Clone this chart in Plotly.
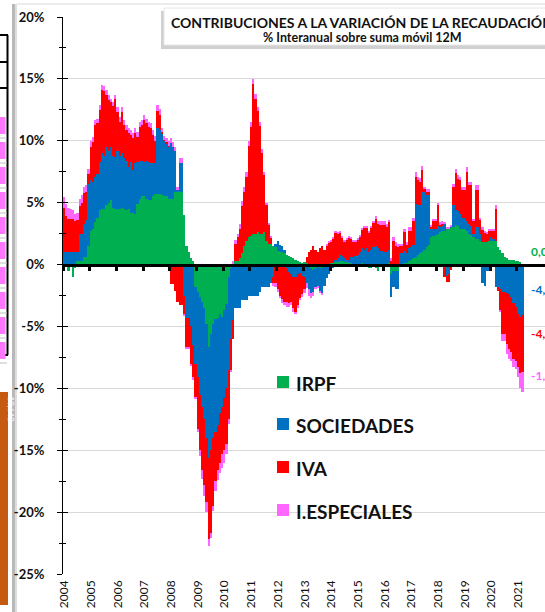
import plotly.graph_objects as go

# ---------------- DATA (monthly, Jan 2004 - Mar 2021, % contribution) ----------------
year_labels = [str(y) for y in range(2004, 2022)]

irpf_04 = [-0.3, -0.2, -0.5, -0.2, -1.0, -0.3, 0.3, 0.3, 0.3, 0.6, 0.6, 1.5]
irpf_05 = [2.75, 2.9, 3.4, 3.8, 4.4, 4.5, 4.5, 4.8, 5.0, 5.2, 4.6, 4.5]
irpf_06 = [4.5, 4.5, 4.6, 4.5, 4.4, 4.5, 4.2, 4.2, 4.1, 4.9, 5.3, 5.5]
irpf_07 = [5.5, 5.3, 5.2, 5.2, 5.5, 5.7, 5.7, 5.7, 5.6, 5.5, 5.5, 5.3]
irpf_08 = [5.3, 5.3, 5.9, 5.9, 5.9, 5.9, 4.0, 1.5, 1.0, 0.5, 0.3, -1.8]
irpf_09 = [-2.2, -2.6, -3.0, -3.5, -4.8, -6.7, -5.6, -4.8, -4.4, -4.3, -4.0, -4.2]
irpf_10 = [-3.7, -3.2, -1.0, -0.3, 0.0, 0.3, 0.3, 0.5, 0.9, 1.5, 1.9, 2.2]
irpf_11 = [2.3, 2.5, 2.5, 2.6, 2.5, 2.5, 2.6, 1.9, 1.7, 1.7, 1.5, 1.4]
irpf_12 = [1.1, 1.0, 1.0, 0.9, 0.8, 0.7, 0.6, 0.5, 0.4, 0.3, 0.2, 0.1]
irpf_13 = [0.2, 0.1, -0.2, -0.3, -0.4, -0.3, -0.2, -0.3, -0.3, -0.2, -0.1, 0.0]
irpf_14 = [0.1, 0.1, 0.2, 0.2, 0.3, 0.3, 0.2, 0.2, 0.1, 0.1, 0.0, 0.0]
irpf_15 = [0.0, 0.0, 0.1, -0.1, -0.2, -0.3, -0.3, -0.2, -0.3, -0.5, 0.0, 0.0]
irpf_16 = [0.0, 0.0, 0.1, -0.75, -0.5, -0.5, -0.5, 0.0, 0.0, 0.1, 0.1, 0.3]
irpf_17 = [0.4, 0.5, 0.6, 0.8, 0.9, 1.0, 1.2, 1.4, 1.6, 2.2, 2.3, 2.4]
irpf_18 = [2.5, 2.6, 2.7, 2.75, 2.9, 2.9, 3.0, 3.0, 3.2, 3.1, 2.9, 2.9]
irpf_19 = [2.9, 2.7, 2.5, 2.4, 2.2, 2.1, 2.1, 1.9, 1.8, 1.8, 1.8, 1.9]
irpf_20 = [1.9, 1.9, 1.9, 1.4, 1.2, 0.9, 0.6, 0.5, 0.4, 0.4, 0.4, 0.3]
irpf_21 = [0.3, 0.2, 0.04]

soc_04 = [1.0, 1.0, 1.0, 1.0, 1.0, 1.0, 0.7, 2.2, 2.2, 2.7, 3.0, 5.0]
soc_05 = [4.05, 3.8, 3.7, 3.5, 3.9, 4.5, 4.3, 4.7, 4.2, 4.3, 4.2, 4.2]
soc_06 = [4.7, 4.3, 4.4, 4.1, 4.0, 3.4, 4.1, 3.4, 4.1, 3.4, 3.1, 2.9]
soc_07 = [2.8, 3.1, 3.1, 3.0, 2.7, 2.5, 5.3, 5.2, 5.0, 4.5, 4.3, 4.2]
soc_08 = [4.5, 4.2, 3.3, 0.1, 2.3, 2.3, -2.5, -4.3, -4.3, -5.0, -6.5, -6.2]
soc_09 = [-6.9, -7.9, -8.5, -9.0, -9.2, -8.9, -9.4, -9.2, -9.1, -8.7, -8.0, -7.3]
soc_10 = [-7.1, -6.8, -7.5, -5.7, -4.5, -3.5, -3.5, -3.5, -2.9, -2.9, -2.9, -2.5]
soc_11 = [-2.5, -2.5, -2.5, -2.5, -2.2, -1.8, -1.8, -1.8, -1.8, -1.5, -1.0, 0.3]
soc_12 = [0.8, 0.6, 0.5, 0.3, -0.3, -0.6, -0.8, -1.0, -1.0, -0.8, -0.7, -0.9]
soc_13 = [-1.0, -1.5, -1.8, -2.0, -1.8, -1.5, -1.5, -1.8, -2.0, -1.5, -1.0, -0.8]
soc_14 = [-0.5, -0.3, 0.2, 0.3, 0.5, 0.4, 0.3, 0.2, 0.3, 0.5, 0.6, 0.7]
soc_15 = [0.8, 1.0, 1.2, 1.2, 1.3, 1.0, 1.2, 1.4, 1.5, 1.3, 1.1, 1.1]
soc_16 = [1.0, 1.0, 1.1, -1.9, -1.3, -1.5, -1.5, 0.9, 0.9, 1.0, 0.8, 1.0]
soc_17 = [1.0, 1.1, 4.3, 4.0, 3.9, 4.9, 4.7, 4.2, 4.0, 0.7, 0.6, 0.5]
soc_18 = [0.6, 0.4, 0.4, 0.5, -0.9, -0.8, 0.1, 1.8, 1.2, 1.2, 1.2, 0.9]
soc_19 = [0.9, 0.8, 0.8, 0.7, 0.3, 0.9, 0.9, 0.6, -1.5, -1.7, -0.5, -0.5]
soc_20 = [0.3, 0.2, -1.8, -1.8, -2.0, -2.2, -2.2, -2.3, -2.4, -2.6, -3.1, -3.4]
soc_21 = [-4.0, -4.2, -4.1]

iva_04 = [3.55, 2.9, 2.7, 2.7, 2.7, 2.5, 2.6, 2.2, 2.5, 2.5, 2.3, 0.8]
iva_05 = [2.7, 3.2, 4.2, 4.1, 4.2, 5.1, 5.2, 4.2, 4.1, 3.6, 4.0, 4.7]
iva_06 = [3.1, 2.7, 3.3, 2.7, 2.5, 2.7, 2.2, 2.6, 2.4, 2.0, 2.7, 2.9]
iva_07 = [3.4, 3.0, 2.8, 2.8, 2.3, 1.8, 1.4, 1.2, 0.1, 0.1, 0.1, 0.1]
iva_08 = [-1.6, -1.6, -2.1, -3.0, -3.3, -3.3, -1.5, -2.4, -2.4, -3.0, -2.6, -2.7]
iva_09 = [-4.2, -4.5, -5.1, -5.3, -5.2, -6.6, -6.7, -5.5, -4.0, -3.6, -4.0, -3.8]
iva_10 = [-4.2, -4.5, -4.0, -2.5, -1.5, 1.4, 1.9, 2.4, 3.8, 4.4, 5.2, 7.4]
iva_11 = [8.8, 12.1, 10.9, 9.8, 8.7, 6.5, 4.6, 2.9, 1.5, 0.5, -0.5, -1.5]
iva_12 = [-2.0, -2.5, -2.8, -3.0, -2.7, -2.5, -2.2, -2.5, -2.8, -2.5, -2.0, -1.5]
iva_13 = [-1.0, 0.5, 1.0, 1.2, 1.5, 1.2, 1.0, 1.3, 1.5, 1.2, 1.5, 1.8]
iva_14 = [1.8, 2.0, 2.2, 2.0, 1.8, 1.5, 1.4, 1.6, 1.8, 1.5, 1.3, 1.2]
iva_15 = [1.2, 1.3, 1.5, 1.8, 1.7, 1.6, 1.8, 2.0, 2.2, 2.0, 2.1, 2.1]
iva_16 = [2.2, 2.0, 2.2, 0.3, 1.9, 1.5, 1.4, 0.6, 0.6, 1.5, 0.7, 1.4]
iva_17 = [1.3, 1.9, 2.2, 2.0, 1.9, 1.7, 0.2, 0.3, 0.3, 0.2, 0.6, 0.6]
iva_18 = [1.7, 0.2, 0.2, -1.0, -0.5, -0.6, -0.4, 1.5, 3.0, 2.6, 2.7, 2.2]
iva_19 = [2.2, 4.0, 3.1, 3.3, 1.0, 3.0, 3.0, 1.1, 1.0, 0.8, 0.7, 0.8]
iva_20 = [0.5, 0.6, 2.6, -0.3, -1.7, -3.4, -3.4, -4.1, -4.4, -4.5, -4.5, -4.4]
iva_21 = [-4.3, -4.6, -4.6]

ie_04 = [0.9, 1.0, 0.9, 0.8, 0.7, 0.6, 0.6, 0.6, 0.6, 0.5, 0.5, 0.4]
ie_05 = [0.5, 0.4, 0.4, 0.4, 0.4, 0.4, 0.4, 0.4, 0.4, 0.3, 0.3, 0.3]
ie_06 = [0.4, 0.4, 0.4, 0.4, 0.4, 0.4, 0.4, 0.4, 0.4, 0.4, 0.4, 0.4]
ie_07 = [0.4, 0.4, 0.4, 0.4, 0.4, 0.4, 0.5, 0.5, 0.3, 0.3, 0.3, 0.4]
ie_08 = [0.4, 0.4, 0.3, 0.3, 0.4, 0.4, -0.1, -0.1, -0.1, -0.2, -0.2, -0.2]
ie_09 = [-0.2, -0.5, -0.7, -0.9, -0.8, -0.5, -0.4, -0.4, -0.8, -0.8, -0.8, -1.1]
ie_10 = [-1.0, -0.8, -0.4, -0.2, 0.3, 0.3, 0.3, 0.4, 0.4, 0.4, 0.4, 0.4]
ie_11 = [0.4, 0.4, 0.4, 0.3, 0.3, 0.3, 0.3, 0.2, 0.1, 0.1, -0.2, -0.3]
ie_12 = [-0.2, -0.2, -0.3, -0.3, -0.4, -0.3, -0.3, -0.3, -0.2, -0.2, -0.2, -0.2]
ie_13 = [-0.3, -0.4, -0.5, -0.4, -0.3, -0.2, -0.2, -0.2, -0.1, 0.0, 0.1, 0.1]
ie_14 = [0.1, 0.1, 0.1, 0.1, 0.1, 0.1, 0.1, 0.1, 0.1, 0.1, 0.1, 0.1]
ie_15 = [0.1, 0.1, 0.1, 0.1, 0.1, 0.1, 0.1, 0.1, 0.2, 0.2, 0.3, 0.3]
ie_16 = [0.3, 0.3, 0.2, 0.2, 0.3, 0.3, 0.3, 0.2, 0.2, 0.3, 0.2, 0.3]
ie_17 = [0.3, 0.3, 0.4, 0.3, 0.3, 0.4, 0.2, 0.2, 0.2, 0.1, 0.2, 0.2]
ie_18 = [0.2, 0.2, 0.2, 0.2, 0.1, 0.1, 0.1, 0.2, 0.3, 0.3, 0.3, 0.3]
ie_19 = [0.3, 0.4, 0.3, 0.3, 0.2, 0.4, 0.4, 0.2, 0.2, 0.1, 0.1, 0.2]
ie_20 = [0.2, 0.2, 0.3, 0.0, -0.1, -0.6, -0.6, -0.8, -0.8, -0.7, -0.7, -0.6]
ie_21 = [-0.8, -1.2, -1.6]

irpf = (irpf_04 + irpf_05 + irpf_06 + irpf_07 + irpf_08 + irpf_09 + irpf_10 + irpf_11 + irpf_12
        + irpf_13 + irpf_14 + irpf_15 + irpf_16 + irpf_17 + irpf_18 + irpf_19 + irpf_20 + irpf_21)
soc = (soc_04 + soc_05 + soc_06 + soc_07 + soc_08 + soc_09 + soc_10 + soc_11 + soc_12
       + soc_13 + soc_14 + soc_15 + soc_16 + soc_17 + soc_18 + soc_19 + soc_20 + soc_21)
iva = (iva_04 + iva_05 + iva_06 + iva_07 + iva_08 + iva_09 + iva_10 + iva_11 + iva_12
       + iva_13 + iva_14 + iva_15 + iva_16 + iva_17 + iva_18 + iva_19 + iva_20 + iva_21)
ie = (ie_04 + ie_05 + ie_06 + ie_07 + ie_08 + ie_09 + ie_10 + ie_11 + ie_12
      + ie_13 + ie_14 + ie_15 + ie_16 + ie_17 + ie_18 + ie_19 + ie_20 + ie_21)

months = list(range(len(irpf)))

# ---------------- STYLE ----------------
GREEN, BLUE, RED, PINK = "#00B050", "#0070C0", "#FF0000", "#FF66FF"
FONT = "Lato"
W, H = 545, 612
L, R, T, B = 63, 545, 17, 574
XMAX = -0.5 + (R - L) / 2.225


def px(v):
    return (v - L) / (R - L)


def py(v):
    return (B - v) / (B - T)


fig = go.Figure()
series = [("IRPF", irpf, GREEN), ("SOCIEDADES", soc, BLUE),
          ("IVA", iva, RED), ("I.ESPECIALES", ie, PINK)]
for name, vals, col in series:
    fig.add_trace(go.Bar(x=months, y=vals, name=name, showlegend=False,
                         marker=dict(color=col, line=dict(width=0))))

# helper trace for the secondary (crossing) axes
fig.add_trace(go.Scatter(x=[0], y=[0], xaxis="x2", yaxis="y2", mode="markers",
                         marker=dict(opacity=0), showlegend=False, hoverinfo="skip"))

ytv = [-25, -20, -15, -10, -5, 0, 5, 10, 15, 20]
year_ticks = [12 * k - 0.5 for k in range(len(year_labels))]

fig.update_layout(
    width=W, height=H, margin=dict(l=L, r=W - R, t=T, b=H - B, autoexpand=False),
    barmode="relative", bargap=0, plot_bgcolor="white", paper_bgcolor="white",
    font=dict(family=FONT, color="#111111"),
    xaxis=dict(range=[-0.5, XMAX], tickvals=[v + 0.6 for v in year_ticks], ticktext=year_labels,
               tickangle=-90, tickfont=dict(size=12, color="#111111"), showgrid=False,
               zeroline=False, showline=False, ticks="", ticklabelstandoff=3, automargin=False),
    xaxis2=dict(overlaying="x", anchor="free", position=25 / 45, range=[-0.5, XMAX],
                tickvals=year_ticks, showticklabels=False, ticks="outside", ticklen=4,
                tickwidth=3, tickcolor="black", showline=True, linecolor="black",
                linewidth=3, showgrid=False, zeroline=False, layer="above traces"),
    yaxis=dict(range=[-25, 20], tickvals=ytv, ticktext=[f"{v}%" for v in ytv],
               tickfont=dict(size=13, weight="bold", color="#111111"), showgrid=True,
               gridcolor="#d9d9d9", gridwidth=1, zeroline=False, showline=True,
               linecolor="black", linewidth=1, ticks="outside", ticklen=5, tickcolor="black",
               ticklabelstandoff=10, automargin=False,
               minor=dict(dtick=2.5, ticks="outside", ticklen=3, tickcolor="black", showgrid=False)),
    yaxis2=dict(overlaying="y", anchor="x", side="left", range=[-25, 20], tickvals=ytv,
                showticklabels=False, ticks="inside", ticklen=5, tickcolor="black",
                showgrid=False, zeroline=False, showline=False,
                minor=dict(dtick=2.5, ticks="inside", ticklen=3, tickcolor="black", showgrid=False)),
)

shapes = []
annotations = []

# page surroundings (spreadsheet remnants on the left and chart frame)
shapes.append(dict(type="rect", xref="paper", yref="paper", x0=px(12), x1=px(15), y0=py(612), y1=py(4),
                   fillcolor="#b8b8b8", line=dict(width=0), layer="below"))
shapes.append(dict(type="rect", xref="paper", yref="paper", x0=px(15), x1=px(17), y0=py(612), y1=py(4),
                   fillcolor="#dedede", line=dict(width=0), layer="below"))
shapes.append(dict(type="line", xref="paper", yref="paper", x0=px(17), x1=px(545), y0=py(4), y1=py(4),
                   line=dict(color="#d9d9d9", width=1)))
for yy in (35, 62, 88):
    shapes.append(dict(type="line", xref="paper", yref="paper", x0=px(0), x1=px(8), y0=py(yy), y1=py(yy),
                       line=dict(color="black", width=2)))
shapes.append(dict(type="line", xref="paper", yref="paper", x0=px(7.5), x1=px(7.5), y0=py(35), y1=py(355),
                   line=dict(color="black", width=2)))
shapes.append(dict(type="line", xref="paper", yref="paper", x0=px(0), x1=px(8), y0=py(355), y1=py(355),
                   line=dict(color="black", width=2)))
for k in range(10):
    y0 = 117 + 25 * k
    shapes.append(dict(type="rect", xref="paper", yref="paper", x0=px(0), x1=px(5.5),
                       y0=py(y0 + 17), y1=py(y0), fillcolor="#FF77FF", line=dict(width=0)))
    shapes.append(dict(type="line", xref="paper", yref="paper", x0=px(0), x1=px(7), y0=py(y0 + 21),
                       y1=py(y0 + 21), line=dict(color="#bdbdbd", width=1)))
shapes.append(dict(type="rect", xref="paper", yref="paper", x0=px(0), x1=px(8), y0=py(605), y1=py(392),
                   fillcolor="#C55A11", line=dict(width=0)))
annotations.append(dict(xref="paper", yref="paper", x=px(4), y=py(394), text="10,642", showarrow=False,
                        textangle=90, yanchor="top", font=dict(size=8, color="white", family=FONT)))

# title box with shadow
shapes.append(dict(type="rect", xref="paper", yref="paper", x0=px(161), x1=px(640), y0=py(49), y1=py(11),
                   fillcolor="#d0d0d0", line=dict(width=0), layer="above"))
shapes.append(dict(type="rect", xref="paper", yref="paper", x0=px(164), x1=px(640), y0=py(45), y1=py(8),
                   fillcolor="white", line=dict(color="#e6e6e6", width=1), layer="above"))
annotations.append(dict(xref="paper", yref="paper", x=px(169), y=py(22),
                        text="CONTRIBUCIONES A LA VARIACIÓN DE LA RECAUDACIÓN", showarrow=False,
                        xanchor="left", yanchor="middle",
                        font=dict(size=14, weight="bold", color="#111111", family=FONT)))
annotations.append(dict(xref="paper", yref="paper", x=px(362), y=py(37),
                        text="% Interanual sobre suma móvil 12M", showarrow=False,
                        xanchor="center", yanchor="middle",
                        font=dict(size=12.5, weight="bold", color="#111111", family=FONT)))

# legend (manual)
for (name, vals, col), yc in zip(series, (382, 424, 467, 510)):
    shapes.append(dict(type="rect", xref="paper", yref="paper", x0=px(277), x1=px(289),
                       y0=py(yc + 6), y1=py(yc - 6), fillcolor=col, line=dict(width=0)))
    annotations.append(dict(xref="paper", yref="paper", x=px(294), y=py(yc + 1), text=name,
                            showarrow=False, xanchor="left", yanchor="middle",
                            font=dict(size=19, weight="bold", color="#111111", family=FONT)))

# data labels on the last month
last = len(months) - 1


def fmt(v):
    return f"{v:.1f}".replace(".", ",") + "%"


lab_pos = [
    (irpf[last], irpf[last] + 1.0, GREEN),
    (soc[last], soc[last] / 2, BLUE),
    (iva[last], soc[last] + iva[last] / 2 + 0.8, RED),
    (ie[last], soc[last] + iva[last] + ie[last] / 2 + 0.5, PINK),
]
for v, yv, col in lab_pos:
    annotations.append(dict(xref="x", yref="y", x=last + 2.9, y=yv, text=fmt(v), showarrow=False,
                            xanchor="left", yanchor="middle",
                            font=dict(size=12, weight="bold", color=col, family=FONT)))

fig.update_layout(shapes=shapes, annotations=annotations)
fig.write_html("out.html", config={"displayModeBar": False},
               post_script="document.body.style.margin='0px';")
